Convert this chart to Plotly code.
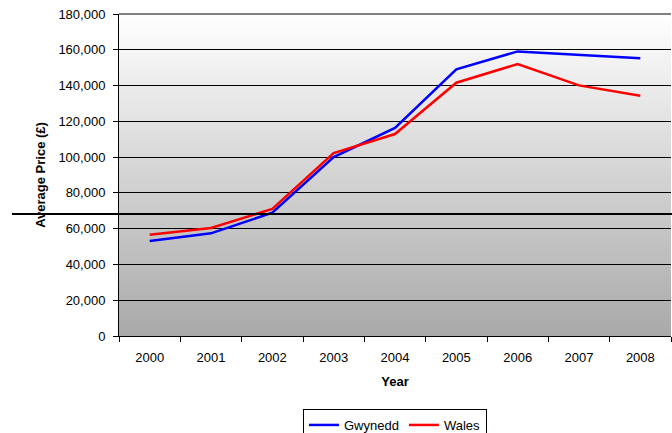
import base64
import plotly.graph_objects as go

years = ["2000", "2001", "2002", "2003", "2004", "2005", "2006", "2007", "2008"]
gwynedd = [53100, 57400, 68900, 100000, 116300, 149100, 159100, 157100, 155200]
wales = [56600, 60400, 71000, 102300, 112900, 141600, 152000, 140100, 134300]
y_ticks = [0, 20000, 40000, 60000, 80000, 100000, 120000, 140000, 160000, 180000]

FONT = "Liberation Sans, Arial, sans-serif"

fig = go.Figure()
fig.add_trace(go.Scatter(x=years, y=gwynedd, mode="lines", name="Gwynedd",
                         line=dict(color="#0000ff", width=2.5)))
fig.add_trace(go.Scatter(x=years, y=wales, mode="lines", name="Wales",
                         line=dict(color="#ff0000", width=2.5)))

# gradient background for the plot area (SVG linear gradient)
svg = ('<svg xmlns="http://www.w3.org/2000/svg" width="100" height="100" preserveAspectRatio="none">'
       '<defs><linearGradient id="g" x1="0" y1="0" x2="0" y2="1">'
       '<stop offset="0" stop-color="#ffffff"/>'
       '<stop offset="1" stop-color="#a9a9a9"/>'
       '</linearGradient></defs>'
       '<rect width="100" height="100" fill="url(#g)"/></svg>')
src = "data:image/svg+xml;base64," + base64.b64encode(svg.encode()).decode()

shapes = [
    # top border (gray)
    dict(type="line", xref="x domain", yref="y domain",
         x0=0, x1=1, y0=1, y1=1, line=dict(color="#808080", width=2)),
    # stray horizontal rule across the figure
    dict(type="line", xref="paper", yref="paper",
         x0=-0.194, x1=1.01, y0=0.379, y1=0.379,
         line=dict(color="black", width=2)),
]

fig.update_layout(
    width=672, height=433,
    margin=dict(l=119, r=1, t=14, b=97, autoexpand=False),
    paper_bgcolor="white",
    plot_bgcolor="rgba(0,0,0,0)",
    font=dict(family=FONT, size=13, color="black"),
    shapes=shapes,
    images=[dict(source=src, xref="paper", yref="paper", x=0, y=1,
                 sizex=1, sizey=1, xanchor="left", yanchor="top",
                 sizing="stretch", layer="below")],
    showlegend=True,
    legend=dict(orientation="h", x=0.5, xanchor="center", xref="paper",
                y=1 - 409 / 433, yanchor="top", yref="container",
                bordercolor="black", borderwidth=1, bgcolor="white",
                font=dict(family=FONT, size=13), itemwidth=30,
                tracegroupgap=0),
)
fig.update_xaxes(
    type="category", range=[-0.5, 8.5], automargin=False,
    showline=True, linecolor="black", linewidth=1,
    ticks="outside", tickson="boundaries", ticklen=5, tickcolor="black",
    ticklabelstandoff=9,
    showgrid=False, zeroline=False,
    tickfont=dict(family=FONT, size=13),
    title=dict(text="<b>Year</b>", font=dict(family=FONT, size=13), standoff=13),
)
fig.update_yaxes(
    range=[0, 180000], tickvals=y_ticks, automargin=False,
    ticktext=[f"{v:,}" for v in y_ticks],
    showline=True, linecolor="black", linewidth=1,
    ticks="outside", ticklen=5, tickcolor="black",
    ticklabelstandoff=5,
    showgrid=True, gridcolor="black", gridwidth=1,
    zeroline=False,
    tickfont=dict(family=FONT, size=13),
    title=dict(text="<b>Average Price (£)</b>", font=dict(family=FONT, size=13), standoff=9),
)

fig.write_html(
    "out.html",
    config={"displayModeBar": False},
    post_script="document.body.style.margin='0';document.body.style.overflow='hidden';",
)
